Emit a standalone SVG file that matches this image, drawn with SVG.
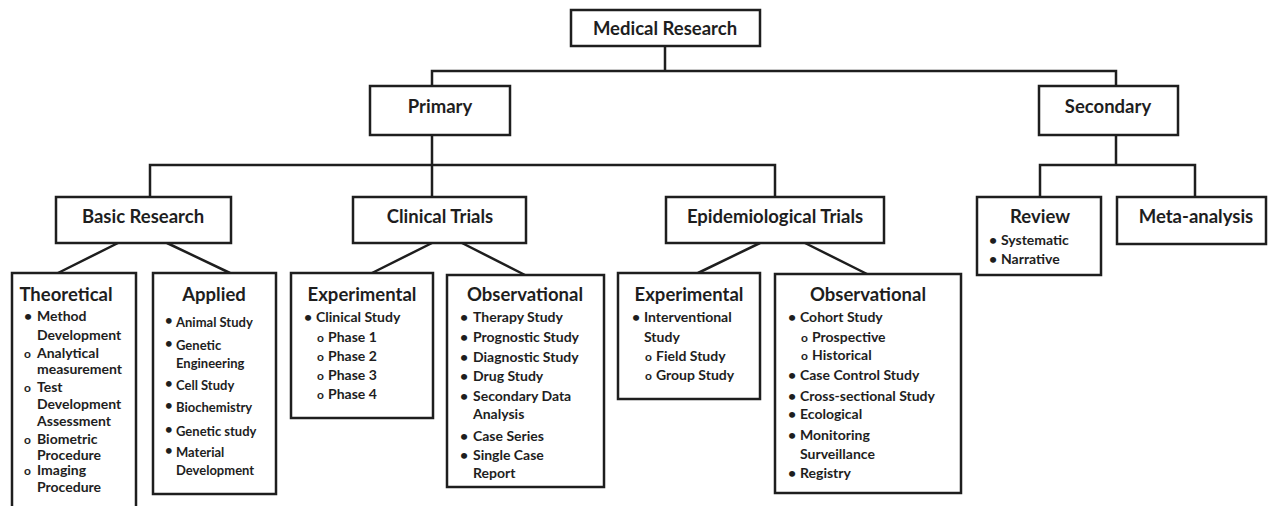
<svg xmlns="http://www.w3.org/2000/svg" width="1271" height="506" viewBox="0 0 1271 506">
<style>
text{font-family:Lato,"Liberation Sans",sans-serif;font-weight:bold;fill:#1e1e1e}
.box{fill:#fff;stroke:#1e1e1e;stroke-width:2.5}
.h1{font-size:18.5px;text-anchor:middle}
.h2{font-size:18.5px;text-anchor:middle}
.it{font-size:14px}
.itl{font-size:14px}
.itm{font-size:13px}
text.o{font-size:12px}
.con{fill:none;stroke:#1e1e1e;stroke-width:2.5}
</style>
<rect width="1271" height="506" fill="#fff"/>
<g id="connectors" class="con">
<path d="M665,46 V71 M432,86 V71 H1116 V86"/>
<path d="M432,135 V196 M150,196 V165 H775 V196"/>
<path d="M1116,135 V165 M1040,197 V165 H1195 V197"/>
<path d="M118,243 L58,273 M167,243 L230,273"/>
<path d="M432,243 L372,273 M462,243 L525,275"/>
<path d="M760,243 L698,273 M805,243 L867,274"/>
</g>
<g id="medical-research"><rect class="box" x="571" y="10" width="189" height="36"/><text class="h1" x="665" y="35">Medical Research</text></g>
<g id="primary"><rect class="box" x="370" y="86" width="140" height="49"/><text class="h1" x="440" y="113">Primary</text></g>
<g id="secondary"><rect class="box" x="1039" y="86" width="139" height="49"/><text class="h1" x="1108" y="113">Secondary</text></g>
<g id="basic-research"><rect class="box" x="56" y="197" width="175" height="46"/><text class="h1" x="143" y="223">Basic Research</text></g>
<g id="clinical-trials"><rect class="box" x="353" y="197" width="173" height="46"/><text class="h1" x="440" y="223">Clinical Trials</text></g>
<g id="epidemiological-trials"><rect class="box" x="666" y="197" width="218" height="46"/><text class="h1" x="775" y="223">Epidemiological Trials</text></g>
<g id="review"><rect class="box" x="977" y="197" width="124" height="78"/><text class="h1" x="1040" y="223">Review</text>
<text class="it" x="989" y="245">•</text><text class="it" x="1001" y="245">Systematic</text>
<text class="it" x="989" y="264">•</text><text class="it" x="1001" y="264">Narrative</text></g>
<g id="meta-analysis"><rect class="box" x="1117" y="197" width="149" height="47"/><text class="h1" x="1196" y="223">Meta-analysis</text></g>
<g id="theoretical"><rect class="box" x="12" y="273" width="124" height="250"/>
<text class="h2" x="66" y="301">Theoretical</text>
<g class="itl">
<text x="24" y="321">•</text><text x="37" y="321">Method</text>
<text x="37" y="340">Development</text>
<text class="o" x="24" y="358">o</text><text x="37" y="358">Analytical</text>
<text x="37" y="374">measurement</text>
<text class="o" x="24" y="392">o</text><text x="37" y="392">Test</text>
<text x="37" y="409">Development</text>
<text x="37" y="426">Assessment</text>
<text class="o" x="24" y="444">o</text><text x="37" y="444">Biometric</text>
<text x="37" y="460">Procedure</text>
<text class="o" x="24" y="475">o</text><text x="37" y="475">Imaging</text>
<text x="37" y="492">Procedure</text>
</g></g>
<g id="applied"><rect class="box" x="153" y="273" width="123" height="221"/>
<text class="h2" x="214" y="301">Applied</text>
<g class="itm">
<text x="165" y="325">•</text><text x="176" y="327">Animal Study</text>
<text x="165" y="348">•</text><text x="176" y="350">Genetic</text>
<text x="176" y="368">Engineering</text>
<text x="165" y="388">•</text><text x="176" y="390">Cell Study</text>
<text x="165" y="410">•</text><text x="176" y="412">Biochemistry</text>
<text x="165" y="434">•</text><text x="176" y="436">Genetic study</text>
<text x="165" y="455">•</text><text x="176" y="457">Material</text>
<text x="176" y="475">Development</text>
</g></g>
<g id="clinical-experimental"><rect class="box" x="291" y="273" width="142" height="145"/>
<text class="h2" x="362" y="301">Experimental</text>
<g class="it">
<text x="304" y="322">•</text><text x="316" y="322">Clinical Study</text>
<text class="o" x="317" y="342">o</text><text x="328" y="342">Phase 1</text>
<text class="o" x="317" y="361">o</text><text x="328" y="361">Phase 2</text>
<text class="o" x="317" y="380">o</text><text x="328" y="380">Phase 3</text>
<text class="o" x="317" y="399">o</text><text x="328" y="399">Phase 4</text>
</g></g>
<g id="clinical-observational"><rect class="box" x="447" y="275" width="157" height="212"/>
<text class="h2" x="525" y="301">Observational</text>
<g class="it">
<text x="460" y="322">•</text><text x="473" y="322">Therapy Study</text>
<text x="460" y="342">•</text><text x="473" y="342">Prognostic Study</text>
<text x="460" y="362">•</text><text x="473" y="362">Diagnostic Study</text>
<text x="460" y="381">•</text><text x="473" y="381">Drug Study</text>
<text x="460" y="401">•</text><text x="473" y="401">Secondary Data</text>
<text x="473" y="419">Analysis</text>
<text x="460" y="441">•</text><text x="473" y="441">Case Series</text>
<text x="460" y="460">•</text><text x="473" y="460">Single Case</text>
<text x="473" y="478">Report</text>
</g></g>
<g id="epi-experimental"><rect class="box" x="618" y="273" width="142" height="126"/>
<text class="h2" x="689" y="301">Experimental</text>
<g class="it">
<text x="632" y="322">•</text><text x="644" y="322">Interventional</text>
<text x="644" y="342">Study</text>
<text class="o" x="645" y="361">o</text><text x="656" y="361">Field Study</text>
<text class="o" x="645" y="380">o</text><text x="656" y="380">Group Study</text>
</g></g>
<g id="epi-observational"><rect class="box" x="775" y="274" width="186" height="219"/>
<text class="h2" x="868" y="301">Observational</text>
<g class="it">
<text x="788" y="322">•</text><text x="800" y="322">Cohort Study</text>
<text class="o" x="801" y="342">o</text><text x="812" y="342">Prospective</text>
<text class="o" x="801" y="360">o</text><text x="812" y="360">Historical</text>
<text x="788" y="380">•</text><text x="800" y="380">Case Control Study</text>
<text x="788" y="401">•</text><text x="800" y="401">Cross-sectional Study</text>
<text x="788" y="419">•</text><text x="800" y="419">Ecological</text>
<text x="788" y="440">•</text><text x="800" y="440">Monitoring</text>
<text x="800" y="459">Surveillance</text>
<text x="788" y="478">•</text><text x="800" y="478">Registry</text>
</g></g>
</svg>
